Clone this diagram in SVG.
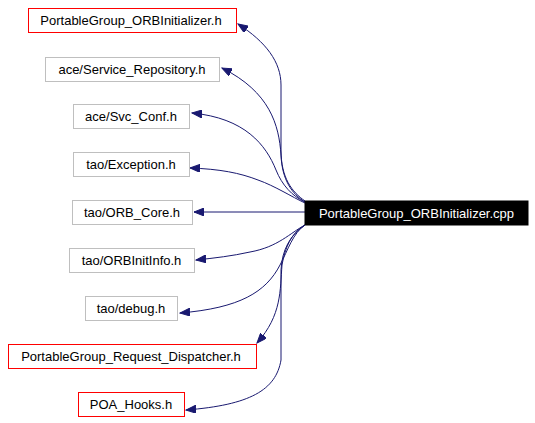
<svg xmlns="http://www.w3.org/2000/svg" width="535" height="423" viewBox="0 0 535 423">
<defs>
<marker id="arr" markerUnits="userSpaceOnUse" markerWidth="11" markerHeight="8" refX="10" refY="4" orient="auto">
<path d="M0,0 L10,4 L0,8 z" fill="#191970" stroke="#191970" stroke-width="1"/>
</marker>
<style>
.box{fill:#ffffff;stroke-width:1}
.g{stroke:#bfbfbf}
.r{stroke:#ff0000}
.t{font-family:"Liberation Sans",Arial,sans-serif;font-size:13px;fill:#000000;text-anchor:middle}
.e{fill:none;stroke:#191970;stroke-width:1;marker-end:url(#arr)}
</style>
</defs>
<rect width="535" height="423" fill="#ffffff"/>
<g id="edges">
<path class="e" d="M305,201 C292,192 281,178 281,150 L281,85 C281,62 266,42 238,24"/>
<path class="e" d="M305,202 C292,194 282,180 281,155 C279,125 270,92 222,68"/>
<path class="e" d="M305,202 C292,196 282,185 276,170 C266,145 245,118 192,113"/>
<path class="e" d="M305,203 C292,197 275,186 258,180 C240,173 220,169 190,168"/>
<path class="e" d="M305,212 L194,212"/>
<path class="e" d="M305,225 C290,233 278,247 250,252 C232,256 215,258 196,260"/>
<path class="e" d="M305,225 C293,233 288,250 280,265 C266,292 240,308 180,313"/>
<path class="e" d="M305,225 C291,233 285,248 282,265 C280,290 282,315 257,343"/>
<path class="e" d="M305,225 C290,235 282,250 281,270 L281,360 C276,390 250,405 186,410"/>
</g>
<g id="node-main">
<rect x="305" y="201" width="223" height="24" fill="#000000" stroke="#000000"/>
<text class="t" x="416.5" y="218" style="fill:#ffffff">PortableGroup_ORBInitializer.cpp</text>
</g>
<g id="node-orbinit-h">
<rect class="box r" x="28.5" y="8.5" width="208" height="24"/>
<text class="t" x="131" y="25">PortableGroup_ORBInitializer.h</text>
</g>
<g id="node-service-repo">
<rect class="box g" x="45.5" y="57.5" width="174" height="24"/>
<text class="t" x="132" y="74">ace/Service_Repository.h</text>
</g>
<g id="node-svc-conf">
<rect class="box g" x="73.5" y="104.5" width="116" height="24"/>
<text class="t" x="131" y="121">ace/Svc_Conf.h</text>
</g>
<g id="node-exception">
<rect class="box g" x="73.5" y="152.5" width="116" height="24"/>
<text class="t" x="131" y="169">tao/Exception.h</text>
</g>
<g id="node-orb-core">
<rect class="box g" x="72.5" y="200.5" width="120" height="24"/>
<text class="t" x="132" y="217">tao/ORB_Core.h</text>
</g>
<g id="node-orbinitinfo">
<rect class="box g" x="69.5" y="248.5" width="125" height="24"/>
<text class="t" x="131.5" y="265">tao/ORBInitInfo.h</text>
</g>
<g id="node-debug">
<rect class="box g" x="85.5" y="296.5" width="92" height="24"/>
<text class="t" x="131" y="313">tao/debug.h</text>
</g>
<g id="node-request-dispatcher">
<rect class="box r" x="8.5" y="344.5" width="248" height="24"/>
<text class="t" x="131" y="361">PortableGroup_Request_Dispatcher.h</text>
</g>
<g id="node-poa-hooks">
<rect class="box r" x="78.5" y="392.5" width="106" height="24"/>
<text class="t" x="131" y="409">POA_Hooks.h</text>
</g>
</svg>
